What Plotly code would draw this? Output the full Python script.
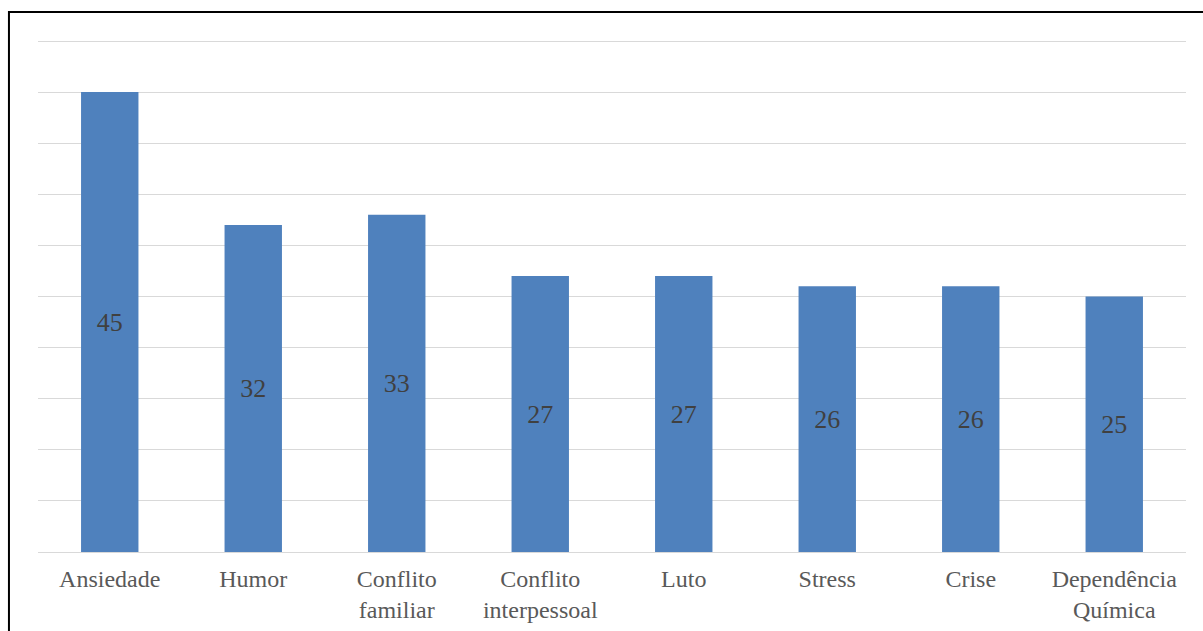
import plotly.graph_objects as go

categories = ["Ansiedade", "Humor", "Conflito<br>familiar", "Conflito<br>interpessoal",
              "Luto", "Stress", "Crise", "Dependência<br>Química"]
values = [45, 32, 33, 27, 27, 26, 26, 25]

SERIF = "Liberation Serif"

fig = go.Figure(
    go.Bar(
        x=categories,
        y=values,
        marker=dict(color="#4F81BD", line=dict(width=0)),
        text=[str(v) for v in values],
        textposition="inside",
        insidetextanchor="middle",
        textangle=0,
        textfont=dict(family=[SERIF] * len(values), size=26, color="#404040"),
        insidetextfont=dict(family=[SERIF] * len(values), size=26, color="#404040"),
        hoverinfo="skip",
    )
)

fig.update_layout(
    width=1203,
    height=631,
    margin=dict(l=38, r=17, t=40, b=79, autoexpand=False),
    paper_bgcolor="white",
    plot_bgcolor="white",
    bargap=0.6,
    showlegend=False,
    font=dict(family=SERIF, size=24, color="#595959"),
    xaxis=dict(
        showline=True,
        linecolor="#D9D9D9",
        linewidth=1,
        showgrid=False,
        ticks="",
        automargin=False,
        ticklabelstandoff=5,
        tickfont=dict(family=SERIF, size=24, color="#595959"),
        fixedrange=True,
    ),
    yaxis=dict(
        range=[0, 50.1],
        dtick=5,
        showgrid=True,
        gridcolor="#D9D9D9",
        gridwidth=1,
        zeroline=False,
        showticklabels=False,
        ticks="",
        fixedrange=True,
    ),
    shapes=[
        dict(
            type="rect",
            xref="paper",
            yref="paper",
            x0=-0.0253,
            x1=1.1,
            y0=-0.3,
            y1=1.0548,
            line=dict(color="black", width=2),
            fillcolor="rgba(0,0,0,0)",
            layer="above",
        )
    ],
)

fig.write_html("out.html")
